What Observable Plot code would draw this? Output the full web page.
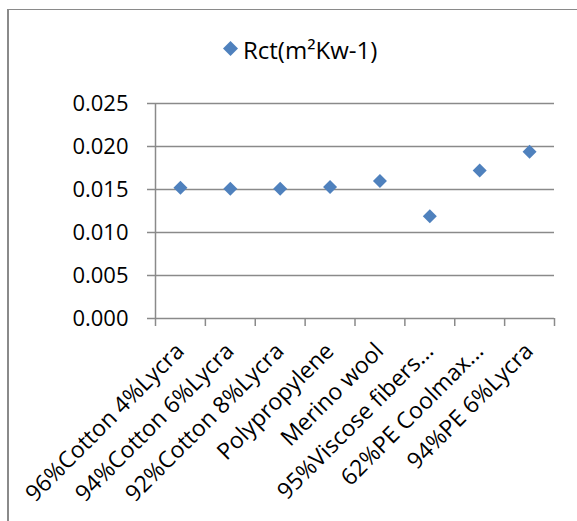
<!DOCTYPE html>
<html>
<head>
<meta charset="utf-8">
<script src="https://cdn.jsdelivr.net/npm/d3@7"></script>
<script src="https://cdn.jsdelivr.net/npm/@observablehq/plot@0.6"></script>
<style>
  html, body { margin: 0; padding: 0; background: #fff; }
  #chart { position: relative; width: 577px; height: 521px; overflow: hidden; font-family: "Open Sans", sans-serif; }
  #frame { position: absolute; left: 7px; top: 9px; right: -2px; bottom: -2px;
           border-left: 2px solid #8a8a8a; border-top: 1px solid #8a8a8a; pointer-events: none; }
  #legend { position: relative; height: 74px; }
  #legend svg.key { position: absolute; left: 223px; top: 41px; }
  #legend span { position: absolute; left: 243px; top: 33px; font-size: 24px; color: #000; white-space: nowrap; }
  #plot svg { display: block; }
</style>
</head>
<body>
<div id="chart">
  <div id="legend"></div>
  <div id="plot"></div>
  <div id="frame"></div>
</div>
<script>
// Fabric samples on the horizontal axis
const categories = [
  "96%Cotton 4%Lycra",
  "94%Cotton 6%Lycra",
  "92%Cotton 8%Lycra",
  "Polypropylene",
  "Merino wool",
  "95%Viscose fibers...",
  "62%PE Coolmax...",
  "94%PE 6%Lycra"
];

// Thermal resistance of each fabric
const rct = [0.0152, 0.0151, 0.0151, 0.0153, 0.0160, 0.0119, 0.0172, 0.0194];

// Value axis ticks
const yTicks = [0, 0.005, 0.010, 0.015, 0.020, 0.025];

const seriesName = "Rct(m²Kw-1)";

const blue = "#4F81BD";
const gray = "#8a8a8a";

const rows = categories.map((name, i) => ({name, index: i, rct: rct[i]}));

// Legend: diamond key and series name
const legend = document.getElementById("legend");
legend.innerHTML =
  `<svg class="key" width="15" height="15" viewBox="0 0 15 15"><path d="M7.5 0L15 7.5L7.5 15L0 7.5Z" fill="${blue}"/></svg>` +
  `<span>${seriesName}</span>`;

const chart = Plot.plot({
  width: 577,
  height: 447,
  marginLeft: 155,
  marginRight: 23,
  marginTop: 29,
  marginBottom: 203,
  style: {fontFamily: "Open Sans, sans-serif", fontSize: "22px", background: "transparent", overflow: "visible"},
  x: {type: "linear", domain: [0, categories.length]},
  y: {domain: [0, 0.025]},
  marks: [
    // horizontal gridlines
    Plot.ruleY(yTicks, {stroke: gray, strokeWidth: 1.5}),
    // vertical axis line
    Plot.ruleX([0], {stroke: gray, strokeWidth: 1.5}),
    Plot.axisY({
      ticks: yTicks,
      tickFormat: d3.format(".3f"),
      tickSize: 8,
      tickPadding: 19,
      stroke: gray,
      strokeWidth: 1.5,
      fill: "#000",
      fontSize: 22,
      label: null
    }),
    // category boundary ticks below the axis
    Plot.axisX({
      ticks: d3.range(categories.length + 1),
      tickSize: 8,
      tickFormat: () => "",
      stroke: gray,
      strokeWidth: 1.5,
      label: null
    }),
    // rotated category labels
    Plot.text(rows, {
      x: d => d.index + 0.5,
      y: () => 0,
      text: "name",
      rotate: -45,
      textAnchor: "end",
      lineAnchor: "bottom",
      dx: 5,
      dy: 34,
      fontSize: 23,
      fill: "#000"
    }),
    // data markers
    Plot.dot(rows, {
      x: d => d.index + 0.5,
      y: "rct",
      symbol: "diamond2",
      r: 6.3,
      fill: blue,
      stroke: "none"
    })
  ]
});

document.getElementById("plot").appendChild(chart);
</script>
</body>
</html>
